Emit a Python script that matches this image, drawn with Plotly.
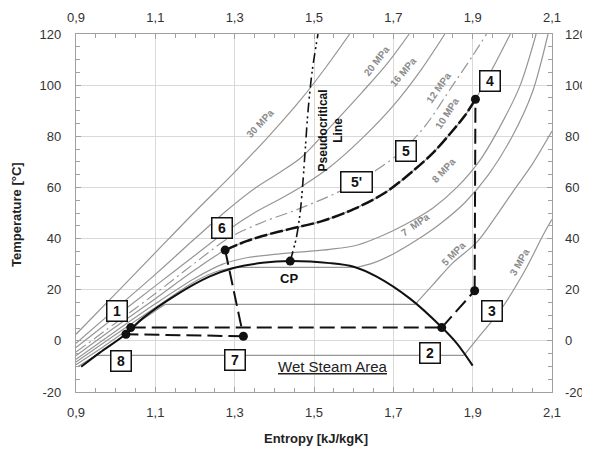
import plotly.graph_objects as go

# ---------------- axis ticks ----------------
X_TICKS = [0.9, 1.1, 1.3, 1.5, 1.7, 1.9, 2.1]
X_TICK_LABELS = ["0,9", "1,1", "1,3", "1,5", "1,7", "1,9", "2,1"]
Y_TICKS = [-20, 0, 20, 40, 60, 80, 100, 120]
Y_TICK_LABELS = ["-20", "0", "20", "40", "60", "80", "100", "120"]

# ---------------- saturation dome ----------------
DOME_S = [0.913, 0.96, 1.026, 1.068, 1.152, 1.236, 1.295, 1.37, 1.44, 1.54, 1.60, 1.658, 1.742, 1.822, 1.86, 1.90]
DOME_T = [-10.1, -4.6, 2.7, 8.8, 17.9, 25.1, 28.4, 30.5, 31.2, 30.4, 29.0, 25.1, 16.5, 5.3, -1.0, -9.7]

# ---------------- isobars (subcritical: liquid / saturation / vapour) ----------------
P3_LIQ_S = [0.905, 0.95]
P3_LIQ_T = [-10.0, -5.7]
P3_SAT = [0.95, 1.878, -5.7]
P3_VAP_S = [1.878, 1.91, 1.97, 2.03, 2.078, 2.1]
P3_VAP_T = [-5.7, 0.5, 12.0, 27.0, 41.5, 47.5]

P5_LIQ_S = [0.9, 0.97, 1.05, 1.125]
P5_LIQ_T = [-9.3, -2.2, 6.5, 14.3]
P5_SAT = [1.125, 1.755, 14.3]
P5_VAP_S = [1.755, 1.80, 1.85, 1.91, 1.96, 2.0, 2.05, 2.1]
P5_VAP_T = [14.3, 22.0, 30.5, 38.5, 49.0, 58.0, 69.0, 82.0]

P7_LIQ_S = [0.9, 1.0, 1.1, 1.2, 1.26, 1.30]
P7_LIQ_T = [-8.3, 2.5, 13.0, 23.2, 27.4, 28.7]
P7_SAT = [1.30, 1.607, 28.7]
P7_VAP_S = [1.607, 1.65, 1.70, 1.76, 1.82, 1.88, 1.94, 2.0, 2.05, 2.09]
P7_VAP_T = [28.7, 30.5, 34.0, 39.5, 46.0, 54.0, 65.0, 80.0, 97.0, 120.0]

# ---------------- isobars (supercritical) ----------------
P8_S = [0.9, 1.0, 1.1, 1.2, 1.27, 1.33, 1.40, 1.47, 1.54, 1.61, 1.67, 1.73, 1.80, 1.86, 1.92, 1.98, 2.02, 2.06]
P8_T = [-7.2, 3.8, 14.5, 24.5, 30.0, 32.5, 33.8, 34.8, 35.8, 37.5, 41.0, 45.5, 52.0, 60.0, 71.0, 87.0, 100.0, 120.0]

P10_S = [0.9, 1.0, 1.1, 1.2, 1.276, 1.33, 1.37, 1.44, 1.52, 1.60, 1.68, 1.75, 1.80, 1.843, 1.88, 1.907, 1.95, 1.995]
P10_T = [-5.8, 5.5, 16.5, 27.8, 35.5, 39.0, 41.0, 43.8, 46.8, 51.5, 58.0, 66.5, 73.5, 81.0, 88.0, 94.5, 106.5, 120.0]

P12_S = [0.9, 1.0, 1.1, 1.2, 1.288, 1.372, 1.46, 1.565, 1.65, 1.72, 1.78, 1.85, 1.90, 1.935]
P12_T = [-4.4, 7.0, 18.5, 30.5, 40.5, 46.5, 51.5, 58.5, 66.0, 74.0, 84.0, 100.0, 111.5, 120.0]

P16_S = [0.9, 1.0, 1.1, 1.2, 1.28, 1.354, 1.42, 1.47, 1.54, 1.62, 1.70, 1.77, 1.83]
P16_T = [-2.6, 9.5, 21.5, 33.5, 43.0, 50.5, 56.0, 60.5, 68.0, 79.0, 92.0, 106.0, 120.0]

P20_S = [0.9, 1.0, 1.1, 1.2, 1.28, 1.354, 1.42, 1.47, 1.54, 1.62, 1.685, 1.74]
P20_T = [-1.0, 12.5, 26.0, 40.0, 51.0, 60.0, 66.5, 72.0, 83.5, 97.0, 108.5, 120.0]

P30_S = [0.9, 1.0, 1.1, 1.2, 1.297, 1.38, 1.465, 1.53, 1.59]
P30_T = [2.6, 18.5, 34.5, 50.5, 65.5, 79.0, 94.0, 107.0, 120.0]

# ---------------- pseudocritical line ----------------
PSEUDO_S = [1.44, 1.455, 1.465, 1.472, 1.478, 1.485, 1.495, 1.51]
PSEUDO_T = [31.2, 40.0, 50.0, 62.0, 75.0, 90.0, 105.0, 120.0]

# ---------------- cycle state points ----------------
STATE_NAMES = ["1", "2", "3", "4", "6", "7", "8"]
STATE_S = [1.038, 1.822, 1.905, 1.907, 1.276, 1.322, 1.026]
STATE_T = [5.2, 5.2, 19.6, 94.5, 35.5, 1.8, 2.6]
CP_S, CP_T = 1.44, 31.2

# gas cooler path 4 -> 6 (along 10 MPa)
GC_S = [1.276, 1.33, 1.37, 1.44, 1.52, 1.60, 1.68, 1.75, 1.80, 1.843, 1.88, 1.907]
GC_T = [35.5, 39.0, 41.0, 43.8, 46.8, 51.5, 58.0, 66.5, 73.5, 81.0, 88.0, 94.5]

# ---------------- label boxes ----------------
BOX_TEXT = ["1", "8", "7", "6", "2", "3", "4", "5", "5'"]
BOX_S = [1.003, 1.013, 1.300, 1.267, 1.792, 1.949, 1.944, 1.731, 1.608]
BOX_T = [11.7, -8.0, -7.4, 44.3, -4.8, 11.6, 101.5, 74.4, 62.1]

ISO_LABELS = ["30 MPa", "20 MPa", "16 MPa", "12 MPa", "10 MPa", "8 MPa", "7  MPa", "5 MPa", "3 MPa"]
ISO_LAB_S = [1.372, 1.666, 1.734, 1.822, 1.843, 1.834, 1.763, 1.860, 2.025]
ISO_LAB_T = [83.7, 108.5, 104.0, 98.0, 87.7, 65.5, 44.5, 32.9, 29.5]
ISO_LAB_ANG = [-47, -52, -50, -55, -57, -47, -35, -45, -60]

GRAY = "#969696"
LABEL_GRAY = "#8c8c8c"
BLACK = "#111111"

# plot area in window pixels (page body has an 8 px margin)
PX_L, PX_R, PX_T, PX_B = 76, 552, 34, 392


def paper_x(px):
    return (px - PX_L) / (PX_R - PX_L)


def paper_y(py):
    return (PX_B - py) / (PX_B - PX_T)


fig = go.Figure()


def line(s, t, color=GRAY, width=1.2, dash="solid", shape="spline"):
    fig.add_trace(go.Scatter(
        x=s, y=t, mode="lines",
        line=dict(color=color, width=width, dash=dash, shape=shape, smoothing=0.9),
        hoverinfo="skip", showlegend=False))


for liq_s, liq_t, sat, vap_s, vap_t in [
    (P3_LIQ_S, P3_LIQ_T, P3_SAT, P3_VAP_S, P3_VAP_T),
    (P5_LIQ_S, P5_LIQ_T, P5_SAT, P5_VAP_S, P5_VAP_T),
    (P7_LIQ_S, P7_LIQ_T, P7_SAT, P7_VAP_S, P7_VAP_T),
]:
    line(liq_s, liq_t)
    line([sat[0], sat[1]], [sat[2], sat[2]], shape="linear")
    line(vap_s, vap_t)

line(P8_S, P8_T)
line(P10_S, P10_T)
line(P12_S, P12_T, dash="12px,4px,2px,4px")
line(P16_S, P16_T)
line(P20_S, P20_T)
line(P30_S, P30_T)

# dome
line(DOME_S, DOME_T, color=BLACK, width=2)
# pseudocritical line
line(PSEUDO_S, PSEUDO_T, color=BLACK, width=1.6, dash="10px,4px,2px,3px,2px,4px")

# cycle
st = dict(zip(STATE_NAMES, zip(STATE_S, STATE_T)))
CYC_DASH = "15px,6px"
for a, b in [("1", "2"), ("2", "3"), ("3", "4"), ("6", "7"), ("7", "8")]:
    line([st[a][0], st[b][0]], [st[a][1], st[b][1]], color=BLACK, width=2, dash=CYC_DASH, shape="linear")
line(GC_S, GC_T, color=BLACK, width=2.5, dash="13px,3px")

fig.add_trace(go.Scatter(
    x=STATE_S + [CP_S], y=STATE_T + [CP_T], mode="markers",
    marker=dict(color=BLACK, size=9), hoverinfo="skip", showlegend=False))

# invisible trace for secondary axes
fig.add_trace(go.Scatter(x=[1.5], y=[50], xaxis="x2", yaxis="y2", mode="markers",
                         marker=dict(opacity=0), hoverinfo="skip", showlegend=False))

ann = []
for t, s, T in zip(BOX_TEXT, BOX_S, BOX_T):
    w = 26 if t == "5'" else 15
    ann.append(dict(x=s, y=T, xref="x", yref="y", text="<b>%s</b>" % t, showarrow=False,
                    font=dict(size=14, color=BLACK, family="Liberation Sans, Arial"),
                    bordercolor=BLACK, borderwidth=1.5, borderpad=2, bgcolor="white",
                    width=w, height=15, align="center", valign="middle"))
for t, s, T, a in zip(ISO_LABELS, ISO_LAB_S, ISO_LAB_T, ISO_LAB_ANG):
    ann.append(dict(x=s, y=T, xref="x", yref="y", text="<b>%s</b>" % t, showarrow=False,
                    textangle=a, xshift=-3, yshift=3,
                    font=dict(size=10, color=LABEL_GRAY, family="Liberation Sans, Arial")))
ann.append(dict(x=1.437, y=24.2, xref="x", yref="y", text="<b>CP</b>", showarrow=False,
                font=dict(size=13, color=BLACK)))
ann.append(dict(x=1.543, y=82.3, xref="x", yref="y", text="<b>Pseudocritical<br>Line</b>",
                showarrow=False, textangle=-90, font=dict(size=12, color=BLACK)))
ann.append(dict(x=1.547, y=-10.2, xref="x", yref="y", text="<u>Wet Steam Area</u>",
                showarrow=False, font=dict(size=15, color="#222222")))
ann.append(dict(x=paper_x(316), y=paper_y(438), xref="paper", yref="paper", text="<b>Entropy [kJ/kgK]</b>",
                xanchor="center", yanchor="middle",
                showarrow=False, font=dict(size=13, color="#222222")))
ann.append(dict(x=paper_x(16), y=paper_y(215), xref="paper", yref="paper", text="<b>Temperature [°C]</b>",
                xanchor="center", yanchor="middle",
                showarrow=False, textangle=-90, font=dict(size=13, color="#222222")))

AX_COL = "#a0a0a0"
common_x = dict(range=[0.9, 2.1], tickmode="array", tickvals=X_TICKS, ticktext=X_TICK_LABELS,
                ticks="inside", ticklen=5, tickcolor=AX_COL,
                minor=dict(ticks="inside", ticklen=4, tickcolor=AX_COL, dtick=0.05, tick0=0.9, showgrid=False),
                tickfont=dict(size=13, color="#333333"), zeroline=False, fixedrange=True)
common_y = dict(range=[-20, 120], tickmode="array", tickvals=Y_TICKS, ticktext=Y_TICK_LABELS,
                ticks="inside", ticklen=5, tickcolor=AX_COL,
                minor=dict(ticks="inside", ticklen=4, tickcolor=AX_COL, dtick=5, tick0=0, showgrid=False),
                tickfont=dict(size=13, color="#333333"), zeroline=False, fixedrange=True)

FIG_W, FIG_H = 582, 445   # page is offset by the 8 px body margin
fig.update_layout(
    width=FIG_W, height=FIG_H,
    margin=dict(l=PX_L - 8, r=FIG_W - (PX_R - 8), t=PX_T - 8, b=FIG_H - (PX_B - 8), autoexpand=False),
    paper_bgcolor="white", plot_bgcolor="white",
    font=dict(family="Liberation Sans, Arial, sans-serif", size=13, color="#333333"),
    showlegend=False,
    annotations=ann,
    xaxis=dict(**common_x, showgrid=True, gridcolor="#d9d9d9", gridwidth=1,
               showline=True, linecolor=AX_COL, linewidth=1.2, mirror=True, ticklabelstandoff=8),
    yaxis=dict(**common_y, showgrid=True, gridcolor="#d9d9d9", gridwidth=1,
               showline=True, linecolor=AX_COL, linewidth=1.2, mirror=True, ticklabelstandoff=11),
    xaxis2=dict(**common_x, overlaying="x", side="top", anchor="y", showgrid=False, showline=False,
                ticklabelstandoff=8),
    yaxis2=dict(**common_y, overlaying="y", side="right", anchor="x", showgrid=False, showline=False,
                ticklabelstandoff=12),
)

fig.write_html("out.html")
